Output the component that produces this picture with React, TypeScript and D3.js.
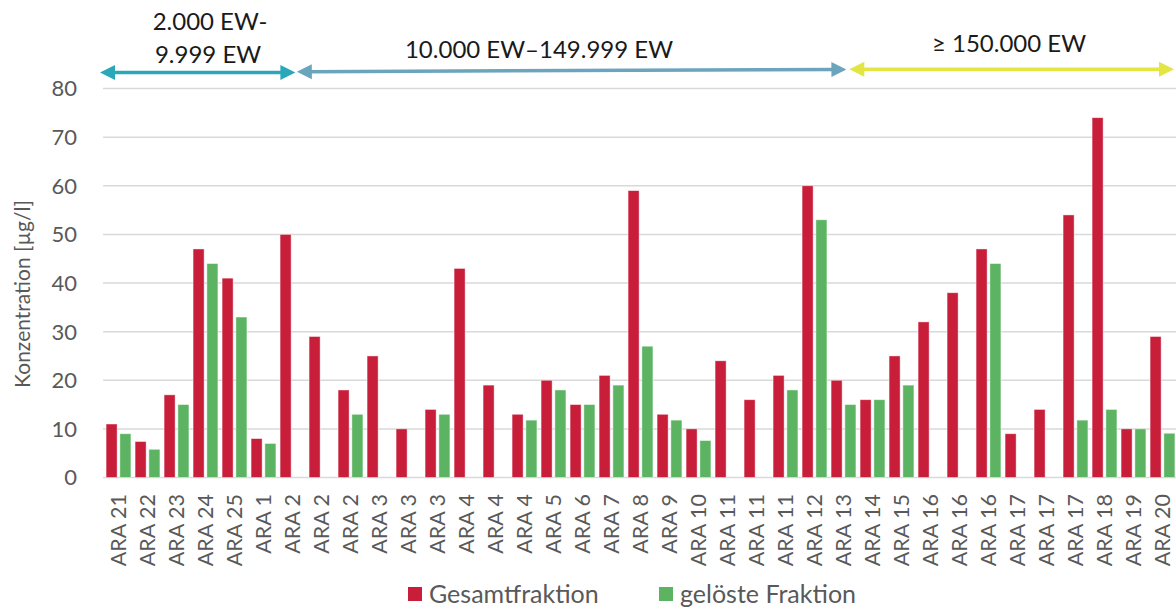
import React from "react";
import * as d3 from "d3";

const categories = [
  "ARA 21", "ARA 22", "ARA 23", "ARA 24", "ARA 25", "ARA 1", "ARA 2", "ARA 2", "ARA 2",
  "ARA 3", "ARA 3", "ARA 3", "ARA 4", "ARA 4", "ARA 4", "ARA 5", "ARA 6", "ARA 7", "ARA 8",
  "ARA 9", "ARA 10", "ARA 11", "ARA 11", "ARA 11", "ARA 12", "ARA 13", "ARA 14", "ARA 15",
  "ARA 16", "ARA 16", "ARA 16", "ARA 17", "ARA 17", "ARA 17", "ARA 18", "ARA 19", "ARA 20",
];

const gesamt: (number | null)[] = [
  11, 7.4, 17, 47, 41, 8, 50, 29, 18,
  25, 10, 14, 43, 19, 13, 20, 15, 21, 59,
  13, 10, 24, 16, 21, 60, 20, 16, 25,
  32, 38, 47, 9, 14, 54, 74, 10, 29,
];

const geloest: (number | null)[] = [
  9, 5.8, 15, 44, 33, 7, null, null, 13,
  null, null, 13, null, null, 11.8, 18, 15, 19, 27,
  11.8, 7.6, null, null, 18, 53, 15, 16, 19,
  null, null, 44, null, null, 11.8, 14, 10, 9.1,
];

const yTicks = [0, 10, 20, 30, 40, 50, 60, 70, 80];

const seriesNames = ["Gesamtfraktion", "gelöste Fraktion"];
const seriesColors = ["#C81E3A", "#5CB462"];

const groups = [
  { lines: ["2.000 EW-", "9.999 EW"], from: 0, to: 6.6, color: "#2AA8BA" },
  { lines: ["10.000 EW–149.999 EW"], from: 6.65, to: 25.6, color: "#6BA4BD" },
  { lines: ["≥ 150.000 EW"], from: 25.7, to: 36.85, color: "#E3E542" },
];

const FONT = "Lato, 'Open Sans', sans-serif";

export default function App() {
  const W = 1176;
  const H = 610;
  const x0 = 104;
  const x1 = 1177;
  const y = d3.scaleLinear().domain([0, 80]).range([477.5, 88.5]);
  const idx = categories.map((_, i) => String(i));
  const x = d3.scaleBand().domain(idx).range([x0, x1]).paddingInner(0).paddingOuter(0);
  const sub = d3
    .scaleBand()
    .domain(["g", "l"])
    .range([0, x.bandwidth()])
    .paddingInner(0.2)
    .paddingOuter(0.15);
  const gx = d3.scaleLinear().domain([0, categories.length]).range([x0, x1]);

  const arrow = (xa: number, ya: number, xb: number, yb: number, color: string, key: string) => {
    const L = 15;
    const hw = 7.5;
    const ang = Math.atan2(yb - ya, xb - xa);
    const c = Math.cos(ang);
    const s = Math.sin(ang);
    const head = (tx: number, ty: number, dir: number) => {
      const bx = tx - dir * L * c;
      const by = ty - dir * L * s;
      return `${tx},${ty} ${bx - hw * s},${by + hw * c} ${bx + hw * s},${by - hw * c}`;
    };
    return (
      <g key={key}>
        <line
          x1={xa + L * c * 0.8}
          y1={ya + L * s * 0.8}
          x2={xb - L * c * 0.8}
          y2={yb - L * s * 0.8}
          stroke={color}
          strokeWidth={3.5}
        />
        <polygon points={head(xb, yb, 1)} fill={color} />
        <polygon points={head(xa, ya, -1)} fill={color} />
      </g>
    );
  };

  const arrowY = [
    [72.5, 72.5],
    [71.7, 69.5],
    [69.3, 69.3],
  ];

  return (
    <svg width={W} height={H} style={{ display: "block", position: "absolute", left: 0, top: 0 }} fontFamily={FONT}>
      <rect width={W} height={H} fill="#fff" />
      {yTicks.map((t) => (
        <g key={t}>
          <line x1={x0 - 1} x2={W} y1={y(t)} y2={y(t)} stroke="#D9D9D9" strokeWidth={1.5} />
          <text x={77} y={y(t)} dy="0.36em" textAnchor="end" fontSize={22} fill="#595959">
            {t}
          </text>
        </g>
      ))}
      {categories.map((c, i) => {
        const bx = x(String(i))!;
        const g = gesamt[i];
        const l = geloest[i];
        return (
          <g key={i}>
            {g != null && (
              <rect
                x={bx + sub("g")!}
                y={y(g)}
                width={sub.bandwidth()}
                height={y(0) - y(g)}
                fill={seriesColors[0]}
                stroke="#fff"
                strokeOpacity={0.55}
                strokeWidth={0.8}
              />
            )}
            {l != null && (
              <rect
                x={bx + sub("l")!}
                y={y(l)}
                width={sub.bandwidth()}
                height={y(0) - y(l)}
                fill={seriesColors[1]}
                stroke="#fff"
                strokeOpacity={0.55}
                strokeWidth={0.8}
              />
            )}
            <text
              transform={`translate(${bx + x.bandwidth() / 2},${494}) rotate(-90)`}
              textAnchor="end"
              dy="0.36em"
              fontSize={21.5}
              fill="#595959"
            >
              {c}
            </text>
          </g>
        );
      })}
      <text
        transform={`translate(22,294) rotate(-90)`}
        textAnchor="middle"
        dy="0.36em"
        fontSize={21}
        fill="#595959"
      >
        Konzentration [µg/l]
      </text>
      {groups.map((gr, i) =>
        arrow(
          i === 0 ? 100 : gx(gr.from),
          arrowY[i][0],
          i === 2 ? 1174 : gx(gr.to),
          arrowY[i][1],
          gr.color,
          "a" + i
        )
      )}
      <text x={210} y={30} textAnchor="middle" fontSize={24} fill="#1a1a1a">
        {groups[0].lines[0]}
      </text>
      <text x={208} y={63} textAnchor="middle" fontSize={24} fill="#1a1a1a">
        {groups[0].lines[1]}
      </text>
      <text x={539} y={58} textAnchor="middle" fontSize={24} fill="#1a1a1a">
        {groups[1].lines[0]}
      </text>
      <text x={1009} y={52} textAnchor="middle" fontSize={24} fill="#1a1a1a">
        {groups[2].lines[0]}
      </text>
      {seriesNames.map((n, i) => {
        const lx = i === 0 ? 408 : 659;
        return (
          <g key={n}>
            <rect x={lx} y={587} width={14} height={14} fill={seriesColors[i]} />
            <text x={lx + 21} y={594} dy="0.36em" fontSize={25} fill="#595959">
              {n}
            </text>
          </g>
        );
      })}
    </svg>
  );
}
